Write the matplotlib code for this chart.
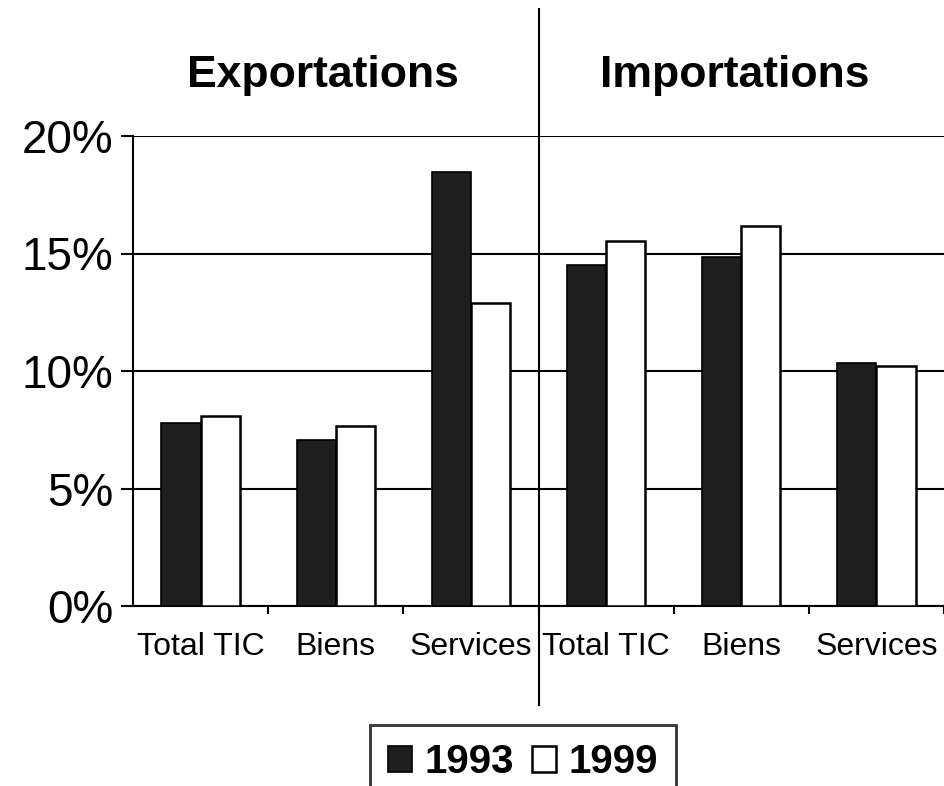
import numpy as np
from matplotlib import pyplot as plt

categories = ['Total TIC', 'Biens', 'Services', 'Total TIC', 'Biens', 'Services']
values1993 = [7.8, 7.05, 18.45, 14.5, 14.85, 10.35]
values1999 = [8.1, 7.65, 12.9, 15.55, 16.15, 10.2]
yticks = [0, 5, 10, 15, 20]
ytickLabels = ['0%', '5%', '10%', '15%', '20%']

plt.rcParams['font.family'] = ['Liberation Sans', 'DejaVu Sans']

fig = plt.figure(figsize=(9.44, 7.86), dpi=100)
ax = fig.add_axes([133 / 944, 180 / 786, 811 / 944, 470 / 786])

x = np.arange(len(categories))
w = 0.29
ax.bar(x - w / 2, values1993, w, color='#1e1e1e', edgecolor='black', linewidth=1.2, label='1993', zorder=3)
ax.bar(x + w / 2, values1999, w, color='white', edgecolor='black', linewidth=1.8, label='1999', zorder=3)

ax.set_xlim(-0.5, -0.5 + 811 / 136.5)
ax.set_ylim(0, 20)
ax.set_yticks(yticks)
ax.set_yticklabels(ytickLabels, fontsize=33)
ax.tick_params(axis='y', length=9, width=1.5, pad=5)

ax.set_xticks(np.arange(len(categories)) + 0.5)
ax.set_xticklabels([])
ax.set_xticks(x, minor=True)
ax.set_xticklabels(categories, minor=True, fontsize=23)
ax.tick_params(axis='x', which='major', length=6, width=1.5)
ax.tick_params(axis='x', which='minor', length=0, pad=19)

ax.yaxis.grid(True, color='black', linewidth=1.5)
ax.set_axisbelow(True)
for s in ['top', 'right']:
    ax.spines[s].set_visible(False)
ax.spines['left'].set_linewidth(1.5)
ax.spines['bottom'].set_linewidth(1.5)

# divider between exports and imports
ax.axvline(2.5, ymin=-0.21, ymax=1.27, color='black', linewidth=1.5, clip_on=False, zorder=4)

fig.text(323 / 944, 1 - 75 / 786, 'Exportations', fontsize=32, fontweight='bold', ha='center', va='center')
fig.text(735 / 944, 1 - 75 / 786, 'Importations', fontsize=32, fontweight='bold', ha='center', va='center')

leg = fig.legend(loc='upper center', bbox_to_anchor=(523 / 944, 1 - 725 / 786), ncol=2,
                 prop={'size': 29, 'weight': 'bold'}, handlelength=0.6, handleheight=0.6,
                 handletextpad=0.3, columnspacing=0.45, fancybox=False, edgecolor='black',
                 borderpad=0.45, borderaxespad=0)
leg.get_frame().set_linewidth(2)

plt.savefig('out.png', dpi=100)
